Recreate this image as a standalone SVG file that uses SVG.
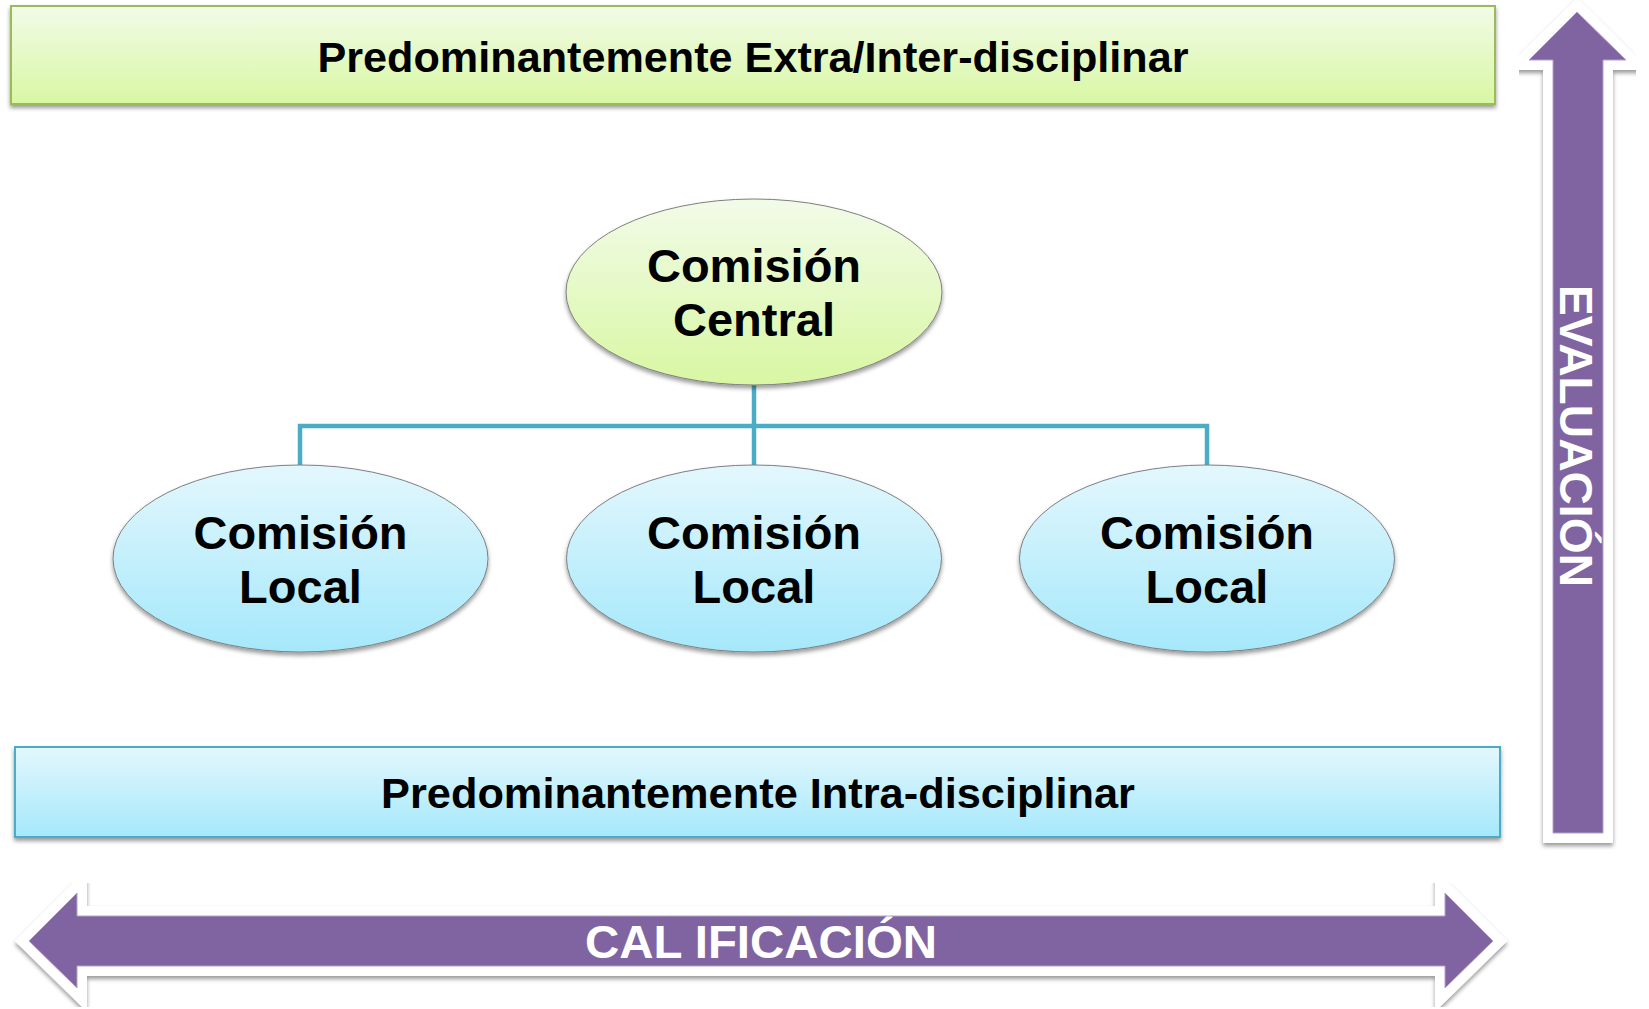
<svg xmlns="http://www.w3.org/2000/svg" width="1649" height="1009" viewBox="0 0 1649 1009">
<defs>
  <linearGradient id="gGreen" x1="0" y1="0" x2="0" y2="1">
    <stop offset="0" stop-color="#f2fbe8"/>
    <stop offset="1" stop-color="#d8f7a3"/>
  </linearGradient>
  <linearGradient id="gBlue" x1="0" y1="0" x2="0" y2="1">
    <stop offset="0" stop-color="#e3f7fd"/>
    <stop offset="1" stop-color="#a5e8fb"/>
  </linearGradient>
  <filter id="shadow" x="-10%" y="-10%" width="120%" height="130%">
    <feDropShadow dx="0" dy="3" stdDeviation="2" flood-color="#000" flood-opacity="0.4"/>
  </filter>
</defs>
<style>
  .lbl{font-family:"Liberation Sans",Arial,sans-serif;font-weight:bold;fill:#000;text-anchor:middle}
  .band{font-size:43px}
  .ell{font-size:47px}
  .arrtxt{font-family:"Liberation Sans",Arial,sans-serif;font-weight:bold;fill:#fff;font-size:47px;text-anchor:middle}
  .conn{stroke:#4bacc6;stroke-width:4.5;fill:none}
  .outline{fill:#fff;stroke:#fff;stroke-width:20;stroke-linejoin:miter;stroke-miterlimit:10}
  .purple{fill:#8064a2;stroke:#b3a2c8;stroke-width:1}
  .green{fill:url(#gGreen)}
  .blue{fill:url(#gBlue)}
  .ellipse{stroke:#7f7f7f;stroke-width:1}
</style>

<g id="arrow-evaluacion">
  <path class="outline" filter="url(#shadow)" d="M1577,12 L1626,60 L1603,60 L1603,833 L1553,833 L1553,60 L1529,60 Z"/>
  <path class="purple" d="M1577,12 L1626,60 L1603,60 L1603,833 L1553,833 L1553,60 L1529,60 Z"/>
  <text class="arrtxt" transform="translate(1560,436) rotate(90)" textLength="302" lengthAdjust="spacingAndGlyphs">EVALUACIÓN</text>
</g>

<g id="arrow-calificacion">
  <path class="outline" filter="url(#shadow)" d="M29,941 L77,893 L77,916 L1445,916 L1445,893 L1493,941 L1445,988 L1445,966 L77,966 L77,988 Z"/>
  <path class="purple" d="M29,941 L77,893 L77,916 L1445,916 L1445,893 L1493,941 L1445,988 L1445,966 L77,966 L77,988 Z"/>
  <text class="arrtxt" x="761" y="958" textLength="352" lengthAdjust="spacingAndGlyphs">CAL IFICACIÓN</text>
</g>

<g id="band-extra">
  <rect x="11" y="6" width="1484" height="98" class="green" stroke="#9bbb59" stroke-width="2" filter="url(#shadow)"/>
  <text class="lbl band" x="753" y="72" textLength="871" lengthAdjust="spacingAndGlyphs">Predominantemente Extra/Inter-disciplinar</text>
</g>

<g id="band-intra">
  <rect x="15" y="747" width="1485" height="90" class="blue" stroke="#4bacc6" stroke-width="2" filter="url(#shadow)"/>
  <text class="lbl band" x="758" y="808" textLength="754" lengthAdjust="spacingAndGlyphs">Predominantemente Intra-disciplinar</text>
</g>

<g id="connectors">
  <path class="conn" d="M754,385 L754,465"/>
  <path class="conn" d="M300,465 L300,426 L1207,426 L1207,465"/>
</g>

<g id="comision-central">
  <ellipse cx="754" cy="292" rx="188" ry="93" class="green ellipse" filter="url(#shadow)"/>
  <text class="lbl ell" x="754" y="282">Comisión</text>
  <text class="lbl ell" x="754" y="336">Central</text>
</g>

<g id="comision-local-1">
  <ellipse cx="300.5" cy="558.5" rx="187.5" ry="93.5" class="blue ellipse" filter="url(#shadow)"/>
  <text class="lbl ell" x="300.5" y="549">Comisión</text>
  <text class="lbl ell" x="300.5" y="603">Local</text>
</g>

<g id="comision-local-2">
  <ellipse cx="754" cy="558.5" rx="187.5" ry="93.5" class="blue ellipse" filter="url(#shadow)"/>
  <text class="lbl ell" x="754" y="549">Comisión</text>
  <text class="lbl ell" x="754" y="603">Local</text>
</g>

<g id="comision-local-3">
  <ellipse cx="1207" cy="558.5" rx="187.5" ry="93.5" class="blue ellipse" filter="url(#shadow)"/>
  <text class="lbl ell" x="1207" y="549">Comisión</text>
  <text class="lbl ell" x="1207" y="603">Local</text>
</g>
</svg>
